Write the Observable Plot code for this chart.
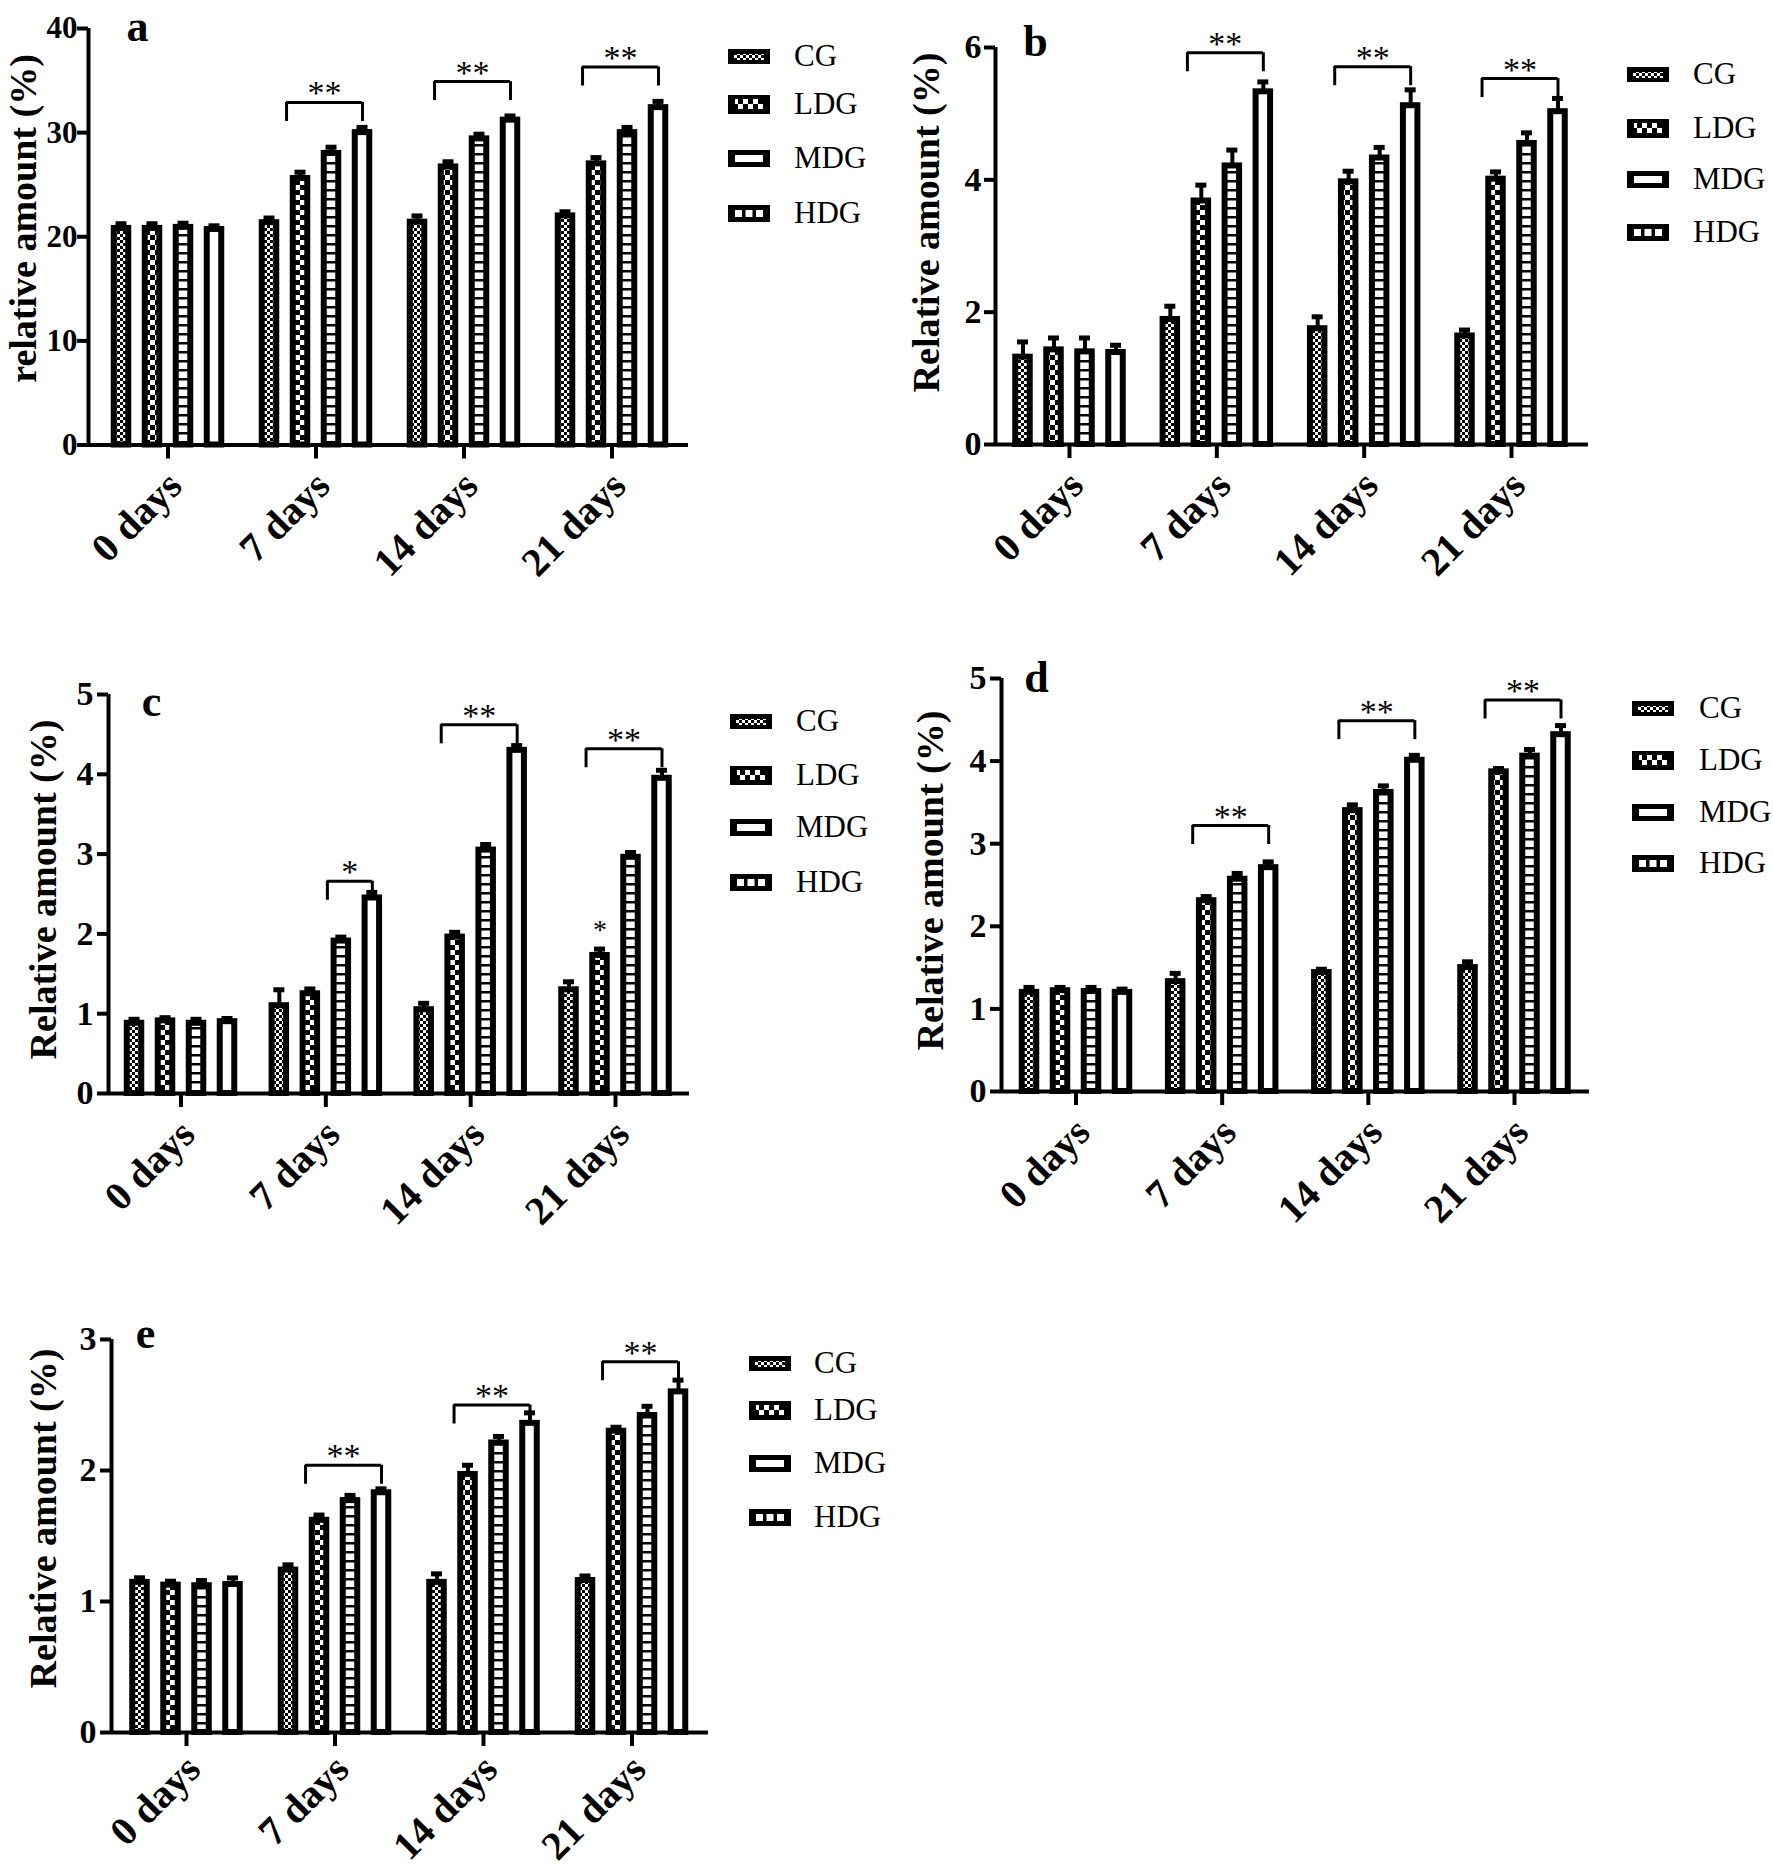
<!DOCTYPE html>
<html><head><meta charset="utf-8">
<script src="https://cdn.jsdelivr.net/npm/d3@7"></script>
<script src="https://cdn.jsdelivr.net/npm/@observablehq/plot@0.6"></script>
<style>
html,body{margin:0;padding:0;background:#fff;}
#page{position:relative;width:1773px;height:1870px;overflow:hidden;font-family:"Liberation Serif","Times New Roman",serif;}
.panel{position:absolute;}
.lrow{position:absolute;display:flex;align-items:center;white-space:nowrap;height:40px;}
.lrow span{font-size:31px;color:#000;font-family:"Liberation Serif","Times New Roman",serif;}
</style></head><body>
<svg width="0" height="0" style="position:absolute">
 <defs>
  <pattern id="pat-CG" patternUnits="userSpaceOnUse" width="6" height="6">
   <rect width="6" height="6" fill="#fff"/><rect width="3" height="3" fill="#000"/><rect x="3" y="3" width="3" height="3" fill="#000"/>
  </pattern>
  <pattern id="pat-LDG" patternUnits="userSpaceOnUse" width="10" height="10">
   <rect width="10" height="10" fill="#000"/><rect width="5" height="5" fill="#fff"/><rect x="5" y="5" width="5" height="5" fill="#fff"/>
  </pattern>
  <pattern id="pat-MDG" patternUnits="userSpaceOnUse" width="10" height="9">
   <rect width="10" height="9" fill="#fff"/><rect width="10" height="2.5" fill="#000"/>
  </pattern>
  <pattern id="pat-HDG" patternUnits="userSpaceOnUse" width="10" height="10">
   <rect width="10" height="10" fill="#fff"/>
  </pattern>
 </defs>
</svg>
<div id="page"></div>
<script>
// ---------- data ----------
const days = ["0 days", "7 days", "14 days", "21 days"];
const groups = ["CG", "LDG", "MDG", "HDG"];

// panel a
const ticksA = [0, 10, 20, 30, 40];
const meanA = [[20.8, 20.8, 20.9, 20.7], [21.35, 25.6, 28.0, 30.0], [21.4, 26.7, 29.4, 31.2], [22.0, 27.0, 30.0, 32.4]];
const errA  = [[0.45, 0.45, 0.4, 0.35], [0.45, 0.6, 0.6, 0.5], [0.6, 0.5, 0.45, 0.4], [0.4, 0.6, 0.5, 0.6]];
const sigA  = [["7 days", "LDG", "HDG", 32.9, "**"], ["14 days", "LDG", "HDG", 34.9, "**"], ["21 days", "LDG", "HDG", 36.3, "**"]];

// panel b
const ticksB = [0, 2, 4, 6];
const meanB = [[1.32, 1.43, 1.40, 1.39], [1.89, 3.68, 4.21, 5.33], [1.75, 3.97, 4.33, 5.12], [1.64, 4.01, 4.55, 5.03]];
const errB  = [[0.23, 0.18, 0.21, 0.11], [0.2, 0.24, 0.24, 0.15], [0.18, 0.16, 0.16, 0.24], [0.09, 0.11, 0.16, 0.2]];
const sigB  = [["7 days", "LDG", "HDG", 5.92, "**"], ["14 days", "LDG", "HDG", 5.71, "**"], ["21 days", "LDG", "HDG", 5.53, "**"]];

// panel c
const ticksC = [0, 1, 2, 3, 4, 5];
const meanC = [[0.88, 0.91, 0.88, 0.90], [1.10, 1.25, 1.91, 2.45], [1.05, 1.96, 3.05, 4.30], [1.30, 1.73, 2.96, 3.95]];
const errC  = [[0.05, 0.04, 0.05, 0.04], [0.2, 0.06, 0.05, 0.07], [0.08, 0.06, 0.07, 0.06], [0.1, 0.08, 0.06, 0.1]];
const sigC  = [["7 days", "MDG", "HDG", 2.66, "*"], ["14 days", "LDG", "HDG", 4.62, "**"], ["21 days", "LDG", "HDG", 4.32, "**"]];
const markC = [["21 days", "LDG", 2.05, "*"]];

// panel d
const ticksD = [0, 1, 2, 3, 4, 5];
const meanD = [[1.20, 1.22, 1.21, 1.20], [1.33, 2.31, 2.57, 2.71], [1.44, 3.40, 3.62, 4.01], [1.50, 3.87, 4.06, 4.32]];
const errD  = [[0.06, 0.04, 0.05, 0.04], [0.1, 0.05, 0.07, 0.07], [0.04, 0.07, 0.08, 0.06], [0.07, 0.04, 0.08, 0.11]];
const sigD  = [["7 days", "LDG", "HDG", 3.22, "**"], ["14 days", "LDG", "HDG", 4.49, "**"], ["21 days", "LDG", "HDG", 4.74, "**"]];

// panel e
const ticksE = [0, 1, 2, 3];
const meanE = [[1.146, 1.125, 1.12, 1.13], [1.24, 1.62, 1.77, 1.83], [1.146, 1.97, 2.21, 2.36], [1.16, 2.30, 2.42, 2.60]];
const errE  = [[0.035, 0.03, 0.04, 0.05], [0.04, 0.04, 0.04, 0.03], [0.065, 0.07, 0.05, 0.08], [0.035, 0.03, 0.07, 0.09]];
const sigE  = [["7 days", "LDG", "HDG", 2.04, "**"], ["14 days", "LDG", "HDG", 2.50, "**"], ["21 days", "LDG", "HDG", 2.83, "**"]];

const titleA = "relative amount (%)";
const titleOther = "Relative amount (%)";

// ---------- layout (page pixels) ----------
const LAYOUT = {
  a: {box: [0, 0, 700, 630], Xa: 88, Xe: 688, T0: 167.5, T3: 611.5, Ytop: 28, Yzero: 444.5, pad: 0, tickFont: 31, titleX: 23, titleY: 218, titleSize: 38, letterX: 137, letterY: 26, labelDy: 34, legend: {x: 728, label: 794, rows: [56, 104, 158, 213]}},
  b: {box: [880, 0, 720, 630], Xa: 995, Xe: 1588, T0: 1069, T3: 1511, Ytop: 47, Yzero: 444, pad: 3, tickFont: 34, titleX: 926, titleY: 222, titleSize: 38, letterX: 1035, letterY: 41, labelDy: 34, legend: {x: 1627, label: 1693, rows: [74, 128, 179, 232]}},
  c: {box: [0, 640, 700, 640], Xa: 108, Xe: 689, T0: 180.5, T3: 615, Ytop: 694, Yzero: 1093, pad: 4, tickFont: 34, titleX: 43, titleY: 889, titleSize: 38, letterX: 151, letterY: 701, labelDy: 34, legend: {x: 730, label: 796, rows: [721, 775, 827, 882]}},
  d: {box: [880, 640, 720, 640], Xa: 1001, Xe: 1589, T0: 1075.5, T3: 1514, Ytop: 678, Yzero: 1091, pad: 4, tickFont: 34, titleX: 930, titleY: 880, titleSize: 38, letterX: 1036, letterY: 677, labelDy: 34, legend: {x: 1632, label: 1699, rows: [708, 760, 812, 863]}},
  e: {box: [0, 1290, 730, 580], Xa: 111, Xe: 708, T0: 186, T3: 631.5, Ytop: 1339, Yzero: 1732, pad: 4, tickFont: 34, titleX: 43, titleY: 1518, titleSize: 38, letterX: 145, letterY: 1333, labelDy: 30, legend: {x: 749, label: 814, rows: [1363, 1410, 1463, 1517]}}
};

const BAR_STEP_PX = 31, BAR_W_PX = 14.5, CAP_HALF_PX = 5.5, LEG_PX = 19;
const page = document.getElementById("page");

function makePanel(key, mean, err, sig, ticks, title, extra) {
  const L = LAYOUT[key];
  const [bx, by, bw, bh] = L.box;
  const s = (L.T3 - L.T0) / 3;              // px per day index
  const d0 = (L.Xa - L.T0) / s, d1 = (L.Xe - L.T0) / s;
  const ymax = ticks[ticks.length - 1];
  const stepU = BAR_STEP_PX / s, halfW = BAR_W_PX / s / 2, capU = CAP_HALF_PX / s;
  const legU = LEG_PX * ymax / (L.Yzero - L.Ytop);
  const xOf = (day, g) => days.indexOf(day) + (groups.indexOf(g) - 1.5) * stepU;

  const rows = days.flatMap((d, i) => groups.map((g, j) => ({day: d, group: g, v: mean[i][j], e: err[i][j]})));
  const sigRows = sig.map(([day, from, to, y, label]) => ({
    xl: xOf(day, from) - 0.45 * stepU, xr: xOf(day, to), y, label
  }));

  const marks = [];
  for (const g of groups) {
    marks.push(Plot.rect(rows.filter(r => r.group === g), {
      x1: r => xOf(r.day, r.group) - halfW, x2: r => xOf(r.day, r.group) + halfW,
      y1: () => 0, y2: "v", fill: `url(#pat-${g})`, stroke: "#000", strokeWidth: 6
    }));
  }
  marks.push(
    Plot.ruleX(rows, {x: r => xOf(r.day, r.group), y1: "v", y2: r => r.v + r.e, stroke: "#000", strokeWidth: 4}),
    Plot.ruleY(rows, {y: r => r.v + r.e, x1: r => xOf(r.day, r.group) - capU, x2: r => xOf(r.day, r.group) + capU, stroke: "#000", strokeWidth: 5}),
    // significance brackets
    Plot.ruleY(sigRows, {y: "y", x1: "xl", x2: "xr", stroke: "#000", strokeWidth: 3}),
    Plot.ruleX(sigRows, {x: "xl", y1: "y", y2: r => r.y - legU, stroke: "#000", strokeWidth: 3}),
    Plot.ruleX(sigRows, {x: "xr", y1: "y", y2: r => r.y - legU, stroke: "#000", strokeWidth: 3}),
    Plot.text(sigRows, {x: r => (r.xl + r.xr) / 2, y: "y", text: "label", dy: 2, lineAnchor: "bottom", fontSize: 34, fontWeight: "normal"}),
    // axes
    Plot.ruleY([0], {stroke: "#000", strokeWidth: 4}),
    Plot.ruleX([d0], {stroke: "#000", strokeWidth: 4}),
    Plot.axisY({ticks, tickSize: 11, tickPadding: L.pad, strokeWidth: 4, fontSize: L.tickFont, fontWeight: "bold", label: null, tickFormat: d => String(d)}),
    Plot.axisX({ticks: [0, 1, 2, 3], tickSize: 14, strokeWidth: 4, tickFormat: () => "", label: null}),
    Plot.axisX({ticks: [0, 1, 2, 3], tickSize: 0, tickPadding: 0, tickRotate: -45, tickFormat: i => days[i], fontSize: 40, fontWeight: "bold", label: null, dx: 7, dy: L.labelDy}),
    // titles
    Plot.text([title], {frameAnchor: "left", rotate: -90, textAnchor: "middle", dx: L.titleX - L.Xa, dy: L.titleY - (L.Ytop + L.Yzero) / 2, fontSize: L.titleSize, fontWeight: "bold", lineAnchor: "middle"}),
    Plot.text([key], {frameAnchor: "top-left", textAnchor: "middle", dx: L.letterX - L.Xa, dy: L.letterY - L.Ytop, fontSize: 44, fontWeight: "bold", lineAnchor: "middle"})
  );
  if (extra) {
    const ex = extra.map(([day, g, y, label]) => ({x: xOf(day, g), y, label}));
    marks.push(Plot.text(ex, {x: "x", y: "y", text: "label", fontSize: 28, fontWeight: "normal", lineAnchor: "middle"}));
  }

  const svg = Plot.plot({
    width: bw, height: bh,
    marginLeft: L.Xa - bx, marginRight: bx + bw - L.Xe,
    marginTop: L.Ytop - by, marginBottom: by + bh - L.Yzero,
    x: {type: "linear", domain: [d0, d1], axis: null},
    y: {domain: [0, ymax], axis: null},
    style: {fontFamily: '"Liberation Serif", "Times New Roman", serif', background: "transparent", overflow: "visible", color: "#000"},
    marks
  });
  svg.classList.add("panel");
  svg.style.left = bx + "px";
  svg.style.top = by + "px";
  svg.style.maxWidth = "none";
  page.appendChild(svg);

  // legend
  const sw = {
    CG: `<rect width="42" height="15" y="3" fill="#000"/><rect x="6" y="8" width="30" height="6" fill="url(#pat-CG)"/>`,
    LDG: `<rect width="42" height="19" y="1" fill="#000"/><rect x="7" y="5" width="28" height="10" fill="url(#pat-LDG)"/>`,
    MDG: `<rect width="42" height="17" y="2" fill="#000"/><rect x="7" y="7" width="28" height="7" fill="#fff"/>`,
    HDG: `<rect width="42" height="17" y="2" fill="#000"/><rect x="7" y="7" width="7" height="7" fill="#fff"/><rect x="17.5" y="7" width="7" height="7" fill="#fff"/><rect x="28" y="7" width="7" height="7" fill="#fff"/>`
  };
  groups.forEach((g, i) => {
    const row = document.createElement("div");
    row.className = "lrow";
    row.style.left = L.legend.x + "px";
    row.style.top = (L.legend.rows[i] - 20) + "px";
    row.innerHTML = `<svg width="42" height="21" style="display:block">${sw[g]}</svg><span style="margin-left:${L.legend.label - L.legend.x - 42}px">${g}</span>`;
    page.appendChild(row);
  });
}

makePanel("a", meanA, errA, sigA, ticksA, titleA);
makePanel("b", meanB, errB, sigB, ticksB, titleOther);
makePanel("c", meanC, errC, sigC, ticksC, titleOther, markC);
makePanel("d", meanD, errD, sigD, ticksD, titleOther);
makePanel("e", meanE, errE, sigE, ticksE, titleOther);
</script>
</body></html>
